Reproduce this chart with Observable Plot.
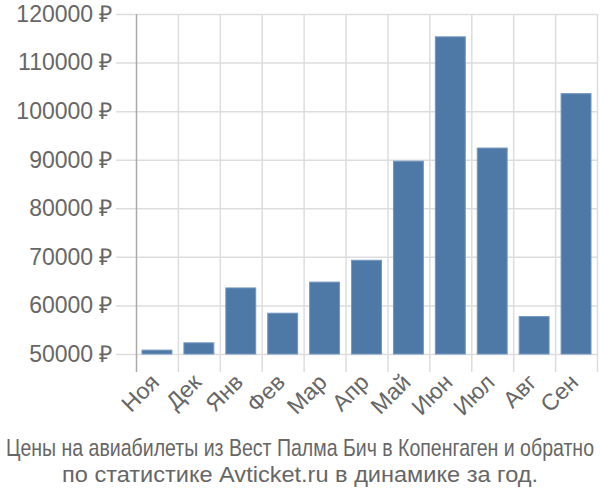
<!DOCTYPE html>
<html><head><meta charset="utf-8">
<script src="https://cdn.jsdelivr.net/npm/d3@7"></script>
<script src="https://cdn.jsdelivr.net/npm/@observablehq/plot@0.6"></script>
<style>
body{margin:0;background:#fff;font-family:"Liberation Sans",Arial,sans-serif;}
#chart svg{display:block}
#cap{display:block}
</style></head>
<body>
<div id="chart"></div>
<svg id="cap" width="600" height="75" xmlns="http://www.w3.org/2000/svg" font-family="Liberation Sans, Arial, sans-serif" fill="#666" text-anchor="middle">
  <text x="300" y="0" transform="translate(0,31) scale(1,1.22)" font-size="19.5" textLength="588" lengthAdjust="spacingAndGlyphs">Цены на авиабилеты из Вест Палма Бич в Копенгаген и обратно</text>
  <text x="300" y="57" font-size="22" textLength="476" lengthAdjust="spacingAndGlyphs">по статистике Avticket.ru в динамике за год.</text>
</svg>
<script>
const months = ["Ноя","Дек","Янв","Фев","Мар","Апр","Май","Июн","Июл","Авг","Сен"];
const prices = [50800,52300,63600,58400,64800,69300,89700,115300,92400,57700,103600];
const yTicks = [50000,60000,70000,80000,90000,100000,110000,120000];
const yMin = yTicks[0], yMax = yTicks[yTicks.length-1];
const data = months.map((m,i)=>({m, i, p: prices[i]}));
const bounds = d3.range(months.length + 1);
const chart = Plot.plot({
  width: 600, height: 425,
  marginLeft: 136, marginRight: 3, marginTop: 14, marginBottom: 71,
  style: {fontFamily: '"Liberation Sans", Arial, sans-serif', background: "#fff"},
  x: {type: "linear", domain: [0, months.length], axis: null},
  y: {domain: [yMin, yMax], axis: null},
  marks: [
    Plot.ruleY(yTicks, {stroke: "#dddddd", strokeWidth: 1.5, insetLeft: -20}),
    Plot.ruleX(bounds.slice(1), {stroke: "#dddddd", strokeWidth: 1.5, insetBottom: -18}),
    Plot.ruleX(bounds.slice(0,1), {stroke: "#aaaaaa", strokeWidth: 1.5, insetBottom: -18}),
    Plot.rectY(data, {x1: d => d.i, x2: d => d.i + 1, y1: () => yMin, y2: "p", insetLeft: 6, insetRight: 6, fill: "#4e79a7", stroke: "#7196c0", strokeWidth: 1}),
    Plot.text(yTicks, {x: () => 0, y: d => d, text: d => `${d} ₽`, textAnchor: "end", dx: -24, fontSize: 23, fill: "#666"}),
    Plot.text(data, {x: d => d.i + 0.5, y: () => yMin, text: "m", rotate: -45, textAnchor: "end", dx: -2, dy: 24, fontSize: 23, fill: "#666"})
  ]
});
document.getElementById("chart").append(chart);
</script>
</body></html>
